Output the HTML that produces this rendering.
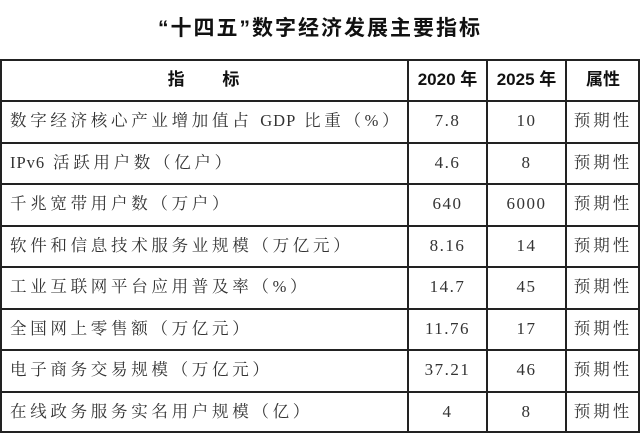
<!DOCTYPE html>
<html><head><meta charset="utf-8"><style>
body{margin:0;width:640px;height:433px;background:#fff;overflow:hidden;position:relative;font-family:"Liberation Serif","Noto Serif CJK SC",serif;color:#333}
.t{position:absolute;left:0;width:640px;top:12px;text-align:center;font:bold 21px "Liberation Sans","Noto Sans CJK SC",sans-serif;color:#111;letter-spacing:2px}
.h{position:absolute;height:1.5px;background:#222;left:0;width:640px}
.v{position:absolute;width:1.5px;background:#222;top:59px;height:374px}
.c{position:absolute;height:41px;line-height:41px;font-size:16.5px;white-space:nowrap}
.hd{font-weight:bold;font-size:17px;font-family:"Liberation Sans","Noto Sans CJK SC",sans-serif;color:#111}
.l{left:10px;letter-spacing:3.7px}
.l span{letter-spacing:1px}
.a{left:408px;width:79px;text-align:center;letter-spacing:1.5px;font-size:17px}
.b{left:487px;width:79px;text-align:center;letter-spacing:1.5px;font-size:17px}
.p{left:566px;width:74px;text-align:center;letter-spacing:3px}
</style></head><body>
<div class="t">“十四五”数字经济发展主要指标</div>
<div class="h" style="top:59px"></div><div class="h" style="top:100px"></div><div class="h" style="top:142px"></div><div class="h" style="top:183px"></div><div class="h" style="top:225px"></div><div class="h" style="top:266px"></div><div class="h" style="top:308px"></div><div class="h" style="top:349px"></div><div class="h" style="top:391px"></div><div class="h" style="top:431px"></div>
<div class="v" style="left:0"></div><div class="v" style="left:407px"></div><div class="v" style="left:486px"></div><div class="v" style="left:565px"></div><div class="v" style="left:638px"></div>
<div class="c hd" style="top:59px;left:0;width:407px;text-align:center">指&nbsp;&nbsp;&nbsp;&nbsp;&nbsp;&nbsp;&nbsp;&nbsp;标</div>
<div class="c hd a" style="top:59px;letter-spacing:0">2020 年</div><div class="c hd b" style="top:59px;letter-spacing:0">2025 年</div><div class="c hd p" style="top:59px;letter-spacing:0">属性</div>
<div class="c l" style="top:100px">数字经济核心产业增加值占 <span>GDP</span> 比重（%）</div><div class="c a" style="top:100px">7.8</div><div class="c b" style="top:100px">10</div><div class="c p" style="top:100px">预期性</div>
<div class="c l" style="top:142px"><span>IPv6</span> 活跃用户数（亿户）</div><div class="c a" style="top:142px">4.6</div><div class="c b" style="top:142px">8</div><div class="c p" style="top:142px">预期性</div>
<div class="c l" style="top:183px">千兆宽带用户数（万户）</div><div class="c a" style="top:183px">640</div><div class="c b" style="top:183px">6000</div><div class="c p" style="top:183px">预期性</div>
<div class="c l" style="top:225px">软件和信息技术服务业规模（万亿元）</div><div class="c a" style="top:225px">8.16</div><div class="c b" style="top:225px">14</div><div class="c p" style="top:225px">预期性</div>
<div class="c l" style="top:266px">工业互联网平台应用普及率（%）</div><div class="c a" style="top:266px">14.7</div><div class="c b" style="top:266px">45</div><div class="c p" style="top:266px">预期性</div>
<div class="c l" style="top:308px">全国网上零售额（万亿元）</div><div class="c a" style="top:308px">11.76</div><div class="c b" style="top:308px">17</div><div class="c p" style="top:308px">预期性</div>
<div class="c l" style="top:349px">电子商务交易规模（万亿元）</div><div class="c a" style="top:349px">37.21</div><div class="c b" style="top:349px">46</div><div class="c p" style="top:349px">预期性</div>
<div class="c l" style="top:391px">在线政务服务实名用户规模（亿）</div><div class="c a" style="top:391px">4</div><div class="c b" style="top:391px">8</div><div class="c p" style="top:391px">预期性</div>
</body></html>
